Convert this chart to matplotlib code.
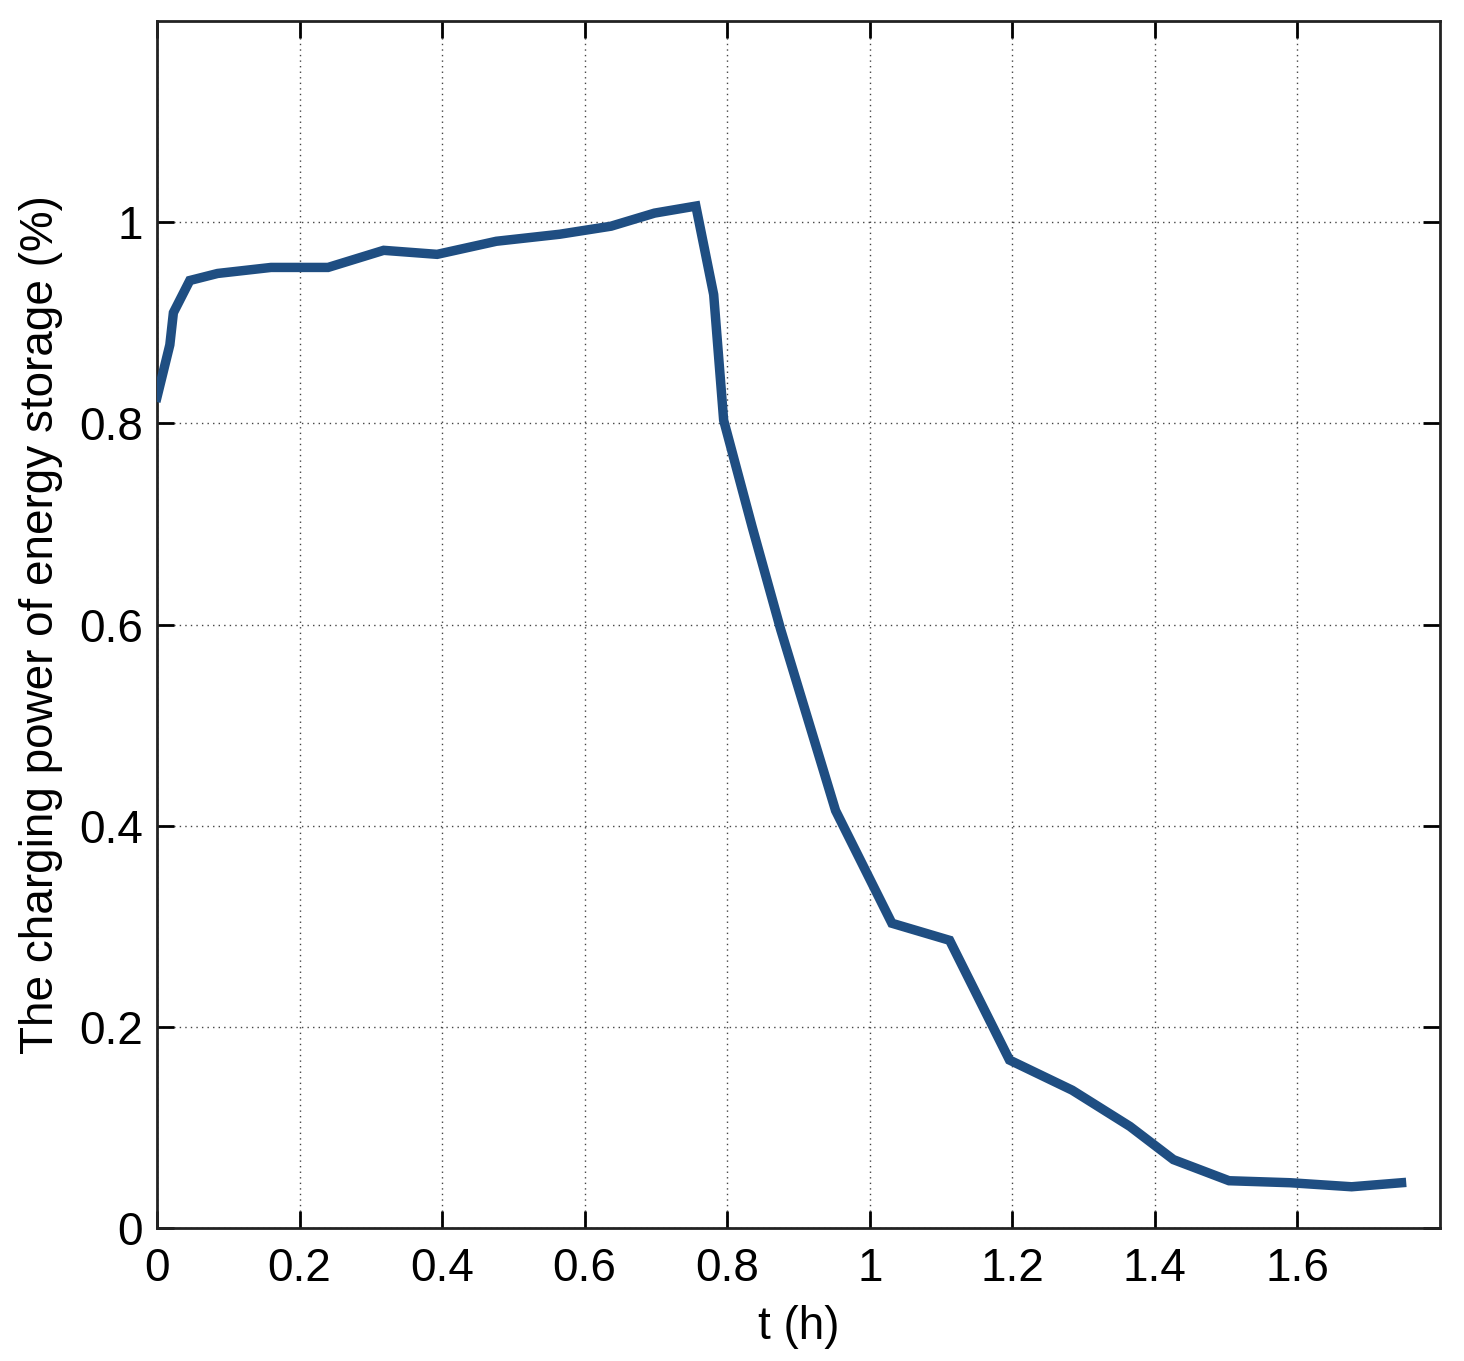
import matplotlib
matplotlib.use("Agg")
import matplotlib.pyplot as plt

t_hours = [0.0, 0.018, 0.023, 0.046, 0.085, 0.16, 0.24, 0.318, 0.393, 0.476,
           0.565, 0.637, 0.698, 0.756, 0.781, 0.795, 0.835, 0.875, 0.952,
           1.031, 1.112, 1.196, 1.284, 1.365, 1.426, 1.504, 1.59, 1.676, 1.746]
charging_power = [0.826, 0.878, 0.910, 0.942, 0.949, 0.955, 0.955, 0.972, 0.968, 0.981,
                  0.988, 0.996, 1.009, 1.016, 0.928, 0.803, 0.697, 0.595, 0.415,
                  0.303, 0.286, 0.167, 0.137, 0.101, 0.068, 0.047, 0.045, 0.041, 0.045]
x_ticks = [0, 0.2, 0.4, 0.6, 0.8, 1.0, 1.2, 1.4, 1.6]
x_tick_labels = ["0", "0.2", "0.4", "0.6", "0.8", "1", "1.2", "1.4", "1.6"]
y_ticks = [0, 0.2, 0.4, 0.6, 0.8, 1.0]
y_tick_labels = ["0", "0.2", "0.4", "0.6", "0.8", "1"]

plt.rcParams['font.family'] = ['Liberation Sans', 'DejaVu Sans']

fig = plt.figure(figsize=(14.64, 13.61), dpi=100)
ax = fig.add_axes([157/1464, 133/1361, (1440-157)/1464, (1228-21)/1361])

ax.plot(t_hours, charging_power, color='#1f4e82', lw=6.8, solid_joinstyle='miter', zorder=3)

ax.set_xlim(0, 1.8)
ax.set_ylim(0, 1.2)
ax.set_xticks(x_ticks)
ax.set_xticklabels(x_tick_labels)
ax.set_yticks(y_ticks)
ax.set_yticklabels(y_tick_labels)

ax.grid(True, linestyle=(0, (1, 3)), color='#444444', linewidth=1.0)
ax.tick_params(direction='in', length=12, width=2, top=True, right=True,
               labelsize=33, colors='black')
ax.tick_params(axis='x', pad=14)
ax.tick_params(axis='y', pad=10)
for s in ax.spines.values():
    s.set_linewidth(2)
    s.set_color('#222222')

ax.set_xlabel('t (h)', fontsize=33, labelpad=10)
ax.set_ylabel('The charging power of energy storage (%)', fontsize=33, labelpad=12)

fig.savefig('out.png', dpi=100)
